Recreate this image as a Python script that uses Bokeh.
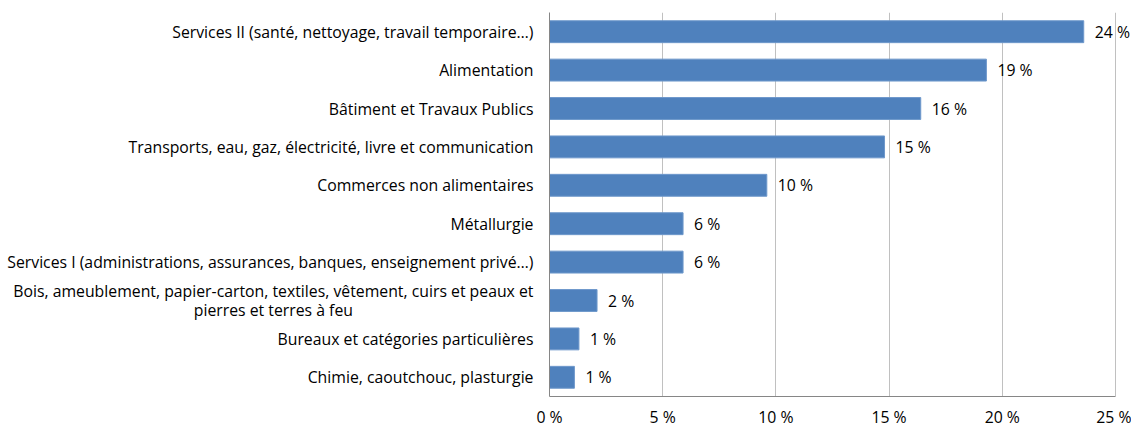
from bokeh.plotting import figure
from bokeh.models import Range1d, FixedTicker, LabelSet, ColumnDataSource
from bokeh.core.properties import value
from bokeh.embed import file_html
from bokeh.resources import INLINE

NB = "\u00a0"
categories = [
    "Services II (santé, nettoyage, travail temporaire…)",
    "Alimentation",
    "Bâtiment et Travaux Publics",
    "Transports, eau, gaz, électricité, livre et communication",
    "Commerces non alimentaires",
    "Métallurgie",
    "Services I (administrations, assurances, banques, enseignement privé…)",
    "Bois, ameublement, papier-carton, textiles, vêtement, cuirs et peaux et\npierres et terres à feu" + NB * 44,
    "Bureaux et catégories particulières",
    "Chimie, caoutchouc, plasturgie",
]
values = [23.6, 19.3, 16.4, 14.8, 9.6, 5.9, 5.9, 2.1, 1.3, 1.1]
value_labels = ["24 %", "19 %", "16 %", "15 %", "10 %", "6 %", "6 %", "2 %", "1 %", "1 %"]
x_ticks = [0, 5, 10, 15, 20, 25]
x_tick_labels = ["0 %", "5 %", "10 %", "15 %", "20 %", "25 %"]

FONT = "Open Sans"
FS = "15.8px"
BAR = "#4F81BD"

source = ColumnDataSource(dict(cat=categories, val=values, lab=value_labels))

p = figure(
    width=1131, height=430,
    y_range=list(reversed(categories)),
    x_range=Range1d(0, 25.71),
    output_backend="svg", toolbar_location=None,
    min_border_left=549, min_border_right=0, min_border_top=12, min_border_bottom=29,
)

p.hbar(y="cat", right="val", height=0.57, source=source,
       fill_color=BAR, line_color="#6E98CB", line_width=1)

labels = LabelSet(x="val", y="cat", text="lab", source=source,
                  x_offset=11, text_baseline="middle", text_align="left",
                  text_font=value(FONT), text_font_size=FS, text_color="#000000")
p.add_layout(labels)

p.outline_line_color = None
p.background_fill_color = "white"
p.border_fill_color = "white"

p.xgrid.ticker = FixedTicker(ticks=x_ticks)
p.xgrid.grid_line_color = "#C0C0C0"
p.xgrid.grid_line_width = 1
p.ygrid.grid_line_color = None

p.xaxis.ticker = FixedTicker(ticks=x_ticks)
p.xaxis.bounds = (0, 25)
p.xaxis.major_label_overrides = {t: l for t, l in zip(x_ticks, x_tick_labels)}
p.xaxis.axis_line_color = "#868686"
p.xaxis.major_tick_line_color = None
p.xaxis.minor_tick_line_color = None
p.xaxis.major_tick_out = 0
p.xaxis.major_tick_in = 0
p.xaxis.major_label_standoff = 9
p.xaxis.major_label_text_font = FONT
p.xaxis.major_label_text_font_size = FS
p.xaxis.major_label_text_color = "#000000"

p.yaxis.axis_line_color = "#868686"
p.yaxis.major_tick_line_color = None
p.yaxis.minor_tick_line_color = None
p.yaxis.major_tick_out = 0
p.yaxis.major_tick_in = 0
p.yaxis.major_label_standoff = 16
p.yaxis.major_label_text_font = FONT
p.yaxis.major_label_text_font_size = FS
p.yaxis.major_label_text_line_height = 0.82
p.yaxis.major_label_text_color = "#000000"

open("out.html", "w").write(file_html(p, INLINE))
